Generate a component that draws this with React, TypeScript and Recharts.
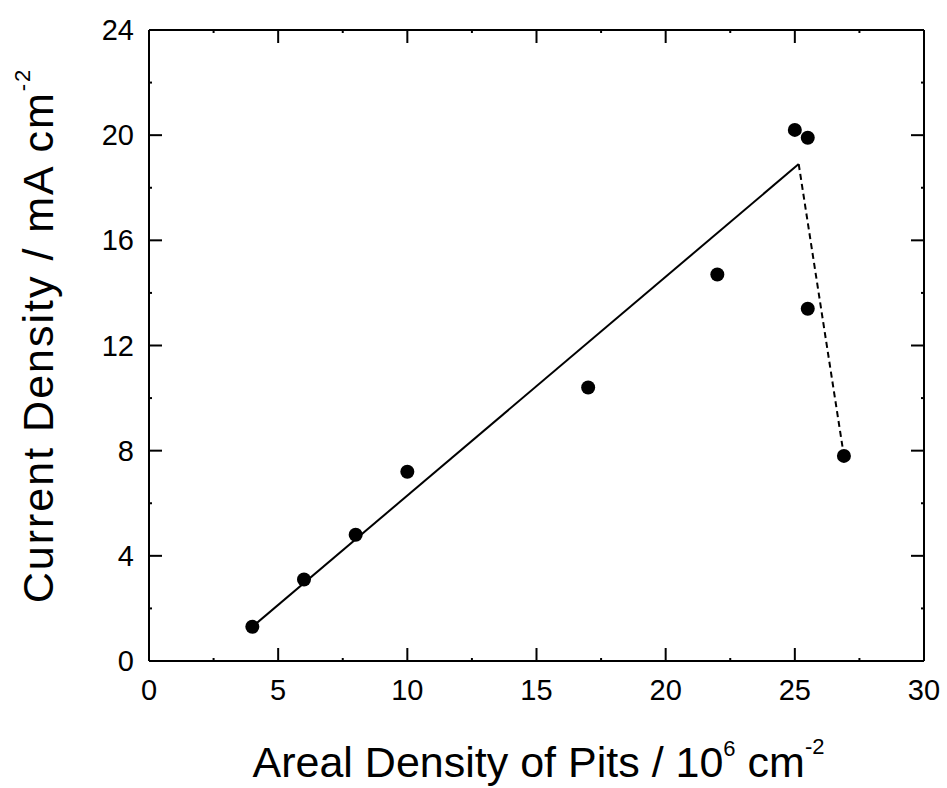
import React from 'react';
import { ComposedChart, XAxis, YAxis, Scatter, Line } from 'recharts';

// pit density (10^6 cm^-2) vs current density (mA cm^-2)
const pitDensity = [4, 6, 8, 10, 17, 22, 25, 25.5, 25.5, 26.9];
const currentDensity = [1.3, 3.1, 4.8, 7.2, 10.4, 14.7, 20.2, 19.9, 13.4, 7.8];

// linear fit up to the apex, then the dashed drop
const fitX = [4, 25.15];
const fitY = [1.3, 18.9];
const dropX = [25.15, 26.9];
const dropY = [18.9, 7.8];

const xTicks = [0, 2.5, 5, 7.5, 10, 12.5, 15, 17.5, 20, 22.5, 25, 27.5, 30];
const yTicks = [0, 2, 4, 6, 8, 10, 12, 14, 16, 18, 20, 22, 24];

const points = pitDensity.map((x, i) => ({ x, y: currentDensity[i] }));
const fitLine = fitX.map((x, i) => ({ x, y: fitY[i] }));
const dropLine = dropX.map((x, i) => ({ x, y: dropY[i] }));

const FONT = '"Liberation Sans", Arial, Helvetica, sans-serif';
const MAJOR = 13;
const MINOR = 3;

function BottomTick({ x, y, payload }: any) {
  const major = payload.value % 5 === 0;
  return (
    <g>
      <line x1={x} x2={x} y1={y} y2={y - (major ? MAJOR : MINOR)} stroke="#000" strokeWidth={2} />
      {major && (
        <text x={x} y={y + 39} textAnchor="middle" fontSize={29} fontFamily={FONT} fill="#000">
          {payload.value}
        </text>
      )}
    </g>
  );
}

function TopTick({ x, y, payload }: any) {
  const major = payload.value % 5 === 0;
  return <line x1={x} x2={x} y1={y} y2={y + (major ? MAJOR : MINOR)} stroke="#000" strokeWidth={2} />;
}

function LeftTick({ x, y, payload }: any) {
  const major = payload.value % 4 === 0;
  return (
    <g>
      <line x1={x} x2={x + (major ? MAJOR : MINOR)} y1={y} y2={y} stroke="#000" strokeWidth={2} />
      {major && (
        <text x={x - 15} y={y + 10} textAnchor="end" fontSize={29} fontFamily={FONT} fill="#000">
          {payload.value}
        </text>
      )}
    </g>
  );
}

function RightTick({ x, y, payload }: any) {
  const major = payload.value % 4 === 0;
  return <line x1={x} x2={x - (major ? MAJOR : MINOR)} y1={y} y2={y} stroke="#000" strokeWidth={2} />;
}

function XTitle({ viewBox }: any) {
  const cx = viewBox.x + viewBox.width / 2 + 2;
  return (
    <text x={cx} y={viewBox.y + 116} textAnchor="middle" fontSize={43} fontFamily={FONT} fill="#000">
      <tspan>Areal Density of Pits / 10</tspan>
      <tspan fontSize={22} dy={-21}>6</tspan>
      <tspan dy={21}> cm</tspan>
      <tspan fontSize={22} dy={-23}>-2</tspan>
    </text>
  );
}

function YTitle({ viewBox }: any) {
  const cy = viewBox.y + viewBox.height / 2 - 10;
  return (
    <text
      transform={`translate(53, ${cy}) rotate(-90)`}
      textAnchor="middle"
      fontSize={43}
      letterSpacing={2}
      fontFamily={FONT}
      fill="#000"
    >
      <tspan>Current Density / mA cm</tspan>
      <tspan fontSize={22} dy={-23}>-2</tspan>
    </text>
  );
}

const Dot = (props: any) => <circle cx={props.cx} cy={props.cy} r={7} fill="#000" />;

export default function App() {
  return (
    <div style={{ position: 'absolute', left: 0, top: 0, background: '#fff' }}>
      <ComposedChart width={947} height={788} margin={{ top: 29, right: 22, bottom: 0, left: 0 }}>
        <XAxis
          type="number"
          dataKey="x"
          domain={[0, 30]}
          ticks={xTicks}
          interval={0}
          height={127}
          tickSize={0}
          tickMargin={0}
          tickLine={false}
          axisLine={{ stroke: '#000', strokeWidth: 2 }}
          tick={<BottomTick />}
          label={<XTitle />}
        />
        <XAxis
          xAxisId="top"
          orientation="top"
          type="number"
          dataKey="x"
          domain={[0, 30]}
          allowDataOverflow
          ticks={xTicks}
          interval={0}
          height={1}
          tickSize={0}
          tickMargin={0}
          tickLine={false}
          axisLine={{ stroke: '#000', strokeWidth: 2 }}
          tick={<TopTick />}
        />
        <YAxis
          type="number"
          dataKey="y"
          domain={[0, 24]}
          ticks={yTicks}
          interval={0}
          width={149}
          tickSize={0}
          tickMargin={0}
          tickLine={false}
          axisLine={{ stroke: '#000', strokeWidth: 2 }}
          tick={<LeftTick />}
          label={<YTitle />}
        />
        <YAxis
          yAxisId="right"
          orientation="right"
          type="number"
          dataKey="y"
          domain={[0, 24]}
          allowDataOverflow
          ticks={yTicks}
          interval={0}
          width={1}
          tickSize={0}
          tickMargin={0}
          tickLine={false}
          axisLine={{ stroke: '#000', strokeWidth: 2 }}
          tick={<RightTick />}
        />
        <Line
          data={fitLine}
          dataKey="y"
          stroke="#000"
          strokeWidth={2}
          dot={false}
          activeDot={false}
          isAnimationActive={false}
        />
        <Line
          data={dropLine}
          dataKey="y"
          stroke="#000"
          strokeWidth={2}
          strokeDasharray="6 4"
          dot={false}
          activeDot={false}
          isAnimationActive={false}
        />
        <Scatter data={points} dataKey="y" shape={<Dot />} isAnimationActive={false} />
      </ComposedChart>
    </div>
  );
}
